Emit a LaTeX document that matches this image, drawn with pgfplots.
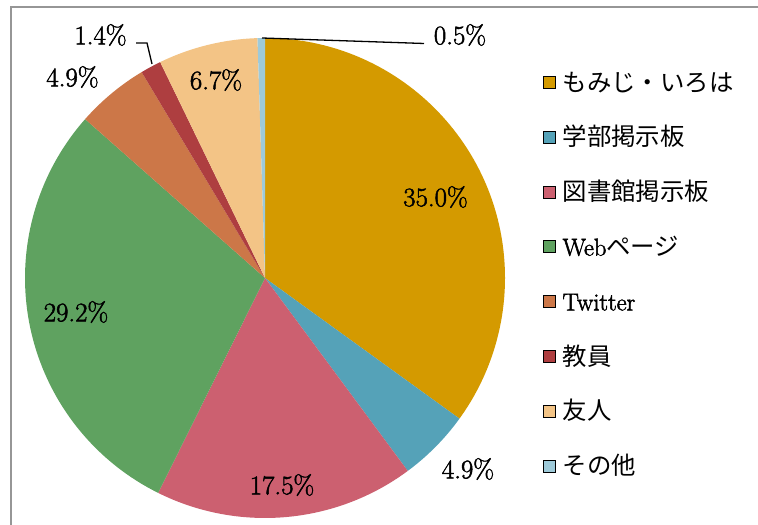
\documentclass[border=0pt]{standalone}
\usepackage{fontspec}
\usepackage{pgfplots}
\pgfplotsset{compat=1.18}
\newfontfamily\cjk{Noto Sans CJK JP}
\definecolor{c1}{RGB}{212,154,0}
\definecolor{c2}{RGB}{85,162,184}
\definecolor{c3}{RGB}{204,96,112}
\definecolor{c4}{RGB}{95,162,96}
\definecolor{c5}{RGB}{204,119,72}
\definecolor{c6}{RGB}{174,62,64}
\definecolor{c7}{RGB}{243,196,134}
\definecolor{c8}{RGB}{158,202,217}
\definecolor{frame}{RGB}{150,150,150}
% slightly heavier text: fill+stroke render mode
\newcommand\emb[1]{\special{pdf:literal direct 2 Tr 0.5 w}#1\special{pdf:literal direct 0 Tr 0.4 w}}
% slice: cumulative start (%), value (%), colour
\newcommand\slice[3]{\fill[#3] (axis cs:265,247) -- ++({90-3.5964*#1}:240bp) arc[start angle={90-3.5964*#1}, end angle={90-3.5964*(#1+#2)}, radius=240bp] -- cycle;}
\newcommand\lab[3]{\node[font=\fontsize{27}{32}\selectfont, inner sep=0pt, anchor=center] at (axis cs:#1,#2) {\emb{#3}};}
\newcommand\lt[1]{\emb{#1}}
\begin{document}
\begin{tikzpicture}
\useasboundingbox (0,0) rectangle (758bp,525bp);
\begin{axis}[at={(0,0)}, anchor=south west, scale only axis,
  width=758bp, height=525bp, xmin=0, xmax=758, ymin=0, ymax=525,
  hide axis, clip=true,
  legend image code/.code={\fill[#1] (0bp,3bp) rectangle (12bp,15bp);},
  legend style={at={(axis cs:543,451)}, anchor=north west, draw=none, fill=none,
    inner sep=0pt, row sep=32.8bp, column sep=7bp,
    font=\fontsize{24.5}{28}\selectfont,
    nodes={inner sep=0pt, text height=17bp, text depth=5bp, anchor=base west}},
  legend cell align=left]
\draw[frame, line width=1.5bp] (axis cs:11,-20) rectangle (axis cs:800,518);
\slice{0}{35.0}{c1}
\slice{35.0}{4.9}{c2}
\slice{39.9}{17.5}{c3}
\slice{57.4}{29.2}{c4}
\slice{86.6}{4.9}{c5}
\slice{91.5}{1.4}{c6}
\slice{92.9}{6.7}{c7}
\slice{99.6}{0.5}{c8}
\draw[black, line width=1.3bp] (axis cs:136,482) -- (axis cs:147,482) -- (axis cs:152,461);
\draw[black, line width=1.3bp] (axis cs:262,487) -- (axis cs:424,481.5);
\lab{435.5}{328}{35.0\%}
\lab{468}{56}{4.9\%}
\lab{282}{40}{17.5\%}
\lab{76}{213}{29.2\%}
\lab{72.5}{448}{4.9\%}
\lab{100.5}{490}{1.4\%}
\lab{216}{445}{6.7\%}
\lab{460}{490}{0.5\%}
\addlegendimage{fill=c1}\addlegendentry{\cjk もみじ・いろは}
\addlegendimage{fill=c2}\addlegendentry{\cjk 学部掲示板}
\addlegendimage{fill=c3}\addlegendentry{\cjk 図書館掲示板}
\addlegendimage{fill=c4}\addlegendentry{\lt{Web}{\cjk ページ}}
\addlegendimage{fill=c5}\addlegendentry{\lt{Twitter}}
\addlegendimage{fill=c6}\addlegendentry{\cjk 教員}
\addlegendimage{fill=c7}\addlegendentry{\cjk 友人}
\addlegendimage{fill=c8}\addlegendentry{\cjk その他}
\end{axis}
\end{tikzpicture}
\end{document}
